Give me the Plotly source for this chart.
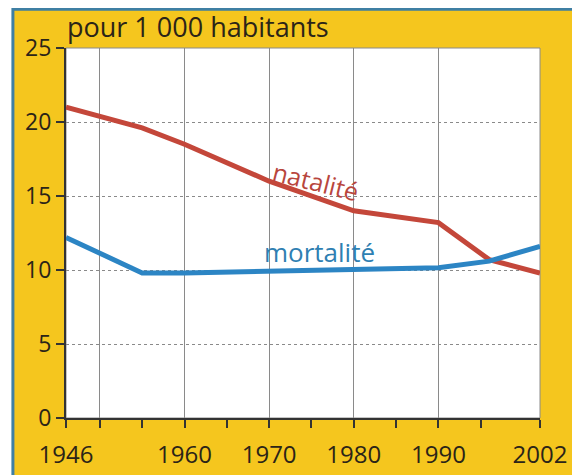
import plotly.graph_objects as go

years = [1946, 1955, 1960, 1970, 1980, 1990, 1996, 2002]
natalite = [21.0, 19.6, 18.5, 16.0, 14.0, 13.2, 10.7, 9.8]
mortalite = [12.2, 9.8, 9.8, 9.9, 10.05, 10.15, 10.6, 11.6]

x_tickvals = [1946, 1950, 1960, 1970, 1980, 1990, 2002]
x_ticktext = ["1946", "", "1960", "1970", "1980", "1990", "2002"]
x_minor_ticks = [1955, 1965, 1975, 1985, 1995]
y_tickvals = [0, 5, 10, 15, 20, 25]

RED = "#c4473a"
BLUE = "#2c85c4"
YELLOW = "#f5c61e"
TXT = "#2b2418"
FONT = "Open Sans"

fig = go.Figure()
fig.add_trace(go.Scatter(x=years, y=natalite, mode="lines",
                         line=dict(color=RED, width=5), name="natalité"))
fig.add_trace(go.Scatter(x=years, y=mortalite, mode="lines",
                         line=dict(color=BLUE, width=5), name="mortalité"))

# yellow frame with blue border
fig.add_shape(type="rect", xref="paper", yref="paper",
              x0=-0.112, x1=1.074, y0=-0.2, y1=1.105,
              fillcolor=YELLOW, line=dict(color="#3f7fa3", width=3), layer="below")
# white plotting area
fig.add_shape(type="rect", xref="paper", yref="paper",
              x0=0, x1=1, y0=0, y1=1,
              fillcolor="white", line=dict(color="#8a8a8a", width=1), layer="below")

fig.update_xaxes(range=[1946, 2002], tickvals=x_tickvals, ticktext=x_ticktext,
                 ticks="outside", ticklen=8, tickwidth=1.5, tickcolor="#333",
                 showgrid=True, gridcolor="#8a8a8a", gridwidth=1,
                 showline=True, linecolor="#333", linewidth=2,
                 zeroline=False, ticklabelstandoff=6, automargin=False,
                 minor=dict(tickvals=x_minor_ticks, ticks="outside", ticklen=8,
                            tickwidth=1.5, tickcolor="#333", showgrid=False),
                 tickfont=dict(family=FONT, size=24, color=TXT))
fig.update_yaxes(range=[0, 25], tickvals=y_tickvals,
                 ticks="outside", ticklen=8, tickwidth=1.5, tickcolor="#333",
                 showgrid=True, gridcolor="#8a8a8a", gridwidth=1, griddash="dot",
                 showline=True, linecolor="#333", linewidth=2,
                 zeroline=False, automargin=False,
                 tickfont=dict(family=FONT, size=23, color=TXT))

fig.add_annotation(text="pour 1 000 habitants", xref="paper", yref="paper",
                   x=-0.003, y=1.057, xanchor="left", yanchor="middle",
                   showarrow=False, font=dict(family=FONT, size=27, color=TXT))
fig.add_annotation(text="natalité", x=1975.5, y=16.0, textangle=14,
                   showarrow=False, font=dict(family=FONT, size=25, color="#b8463d"))
fig.add_annotation(text="mortalité", x=1976.0, y=11.2,
                   showarrow=False, font=dict(family=FONT, size=26, color="#2f7fb2"))

fig.update_layout(width=572, height=467, margin=dict(l=58, r=40, t=40, b=57),
                  paper_bgcolor="white", plot_bgcolor="rgba(0,0,0,0)",
                  showlegend=False)

fig.write_html("out.html")
